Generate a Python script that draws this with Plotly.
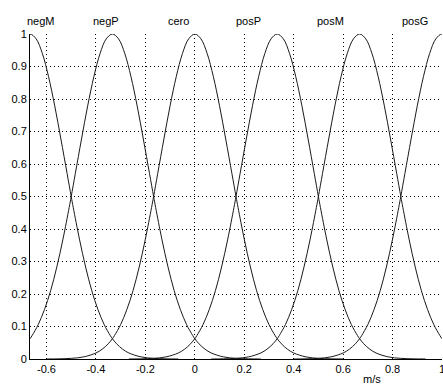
"""Gaussian membership functions for a fuzzy velocity variable (m/s)."""

import plotly.graph_objects as go

# ---------------------------------------------------------------------------
# Data
# ---------------------------------------------------------------------------

set_names = ["negM", "negP", "cero", "posP", "posM", "posG"]
set_centers = [-0.6667, -0.3333, 0.0, 0.3333, 0.6667, 1.0]

# One-sided shape of every membership curve: distance from the peak -> degree
profile_offsets = [0.0, 0.025, 0.05, 0.075, 0.1, 0.125, 0.15, 0.1667, 0.175,
                   0.2, 0.225, 0.25, 0.275, 0.3, 0.325, 0.3333, 0.35, 0.375,
                   0.4, 0.45, 0.5, 0.55, 0.6]
profile_degree = [1.0, 0.985, 0.94, 0.869, 0.779, 0.677, 0.571, 0.5, 0.466,
                  0.369, 0.283, 0.21, 0.152, 0.106, 0.072, 0.0625, 0.047, 0.03,
                  0.0185, 0.0064, 0.002, 0.0005, 0.0]

x_ticks = [-0.6, -0.4, -0.2, 0, 0.2, 0.4, 0.6, 0.8, 1]
x_tick_labels = ["-0.6", "-0.4", "-0.2", "0", "0.2", "0.4", "0.6", "0.8", "1"]
y_ticks = [0, 0.1, 0.2, 0.3, 0.4, 0.5, 0.6, 0.7, 0.8, 0.9, 1]
y_tick_labels = ["0", "0.1", "0.2", "0.3", "0.4", "0.5", "0.6", "0.7", "0.8",
                 "0.9", "1"]

# where the set names sit above the axes (x in data units)
name_positions = [-0.624, -0.358, -0.064, 0.216, 0.547, 0.891]

FONT = "Liberation Sans, Arial, sans-serif"

fig = go.Figure()

# -- Membership curves -------------------------------------------------------
left_off = [-d for d in reversed(profile_offsets[1:])]
left_deg = list(reversed(profile_degree[1:]))
offsets = left_off + profile_offsets
degrees = left_deg + profile_degree

for name, c in zip(set_names, set_centers):
    fig.add_trace(go.Scatter(
        x=[c + d for d in offsets], y=degrees,
        mode="lines", line=dict(color="#1a1a1a", width=1, shape="spline"),
        name=name, showlegend=False, hoverinfo="x+y+name",
    ))

# -- Set names above the plot ------------------------------------------------
for name, xp in zip(set_names, name_positions):
    fig.add_annotation(
        x=xp, y=1.039, xref="x", yref="paper", text=name,
        showarrow=False, xanchor="center", yanchor="middle",
        font=dict(family=FONT, size=11, color="black"),
    )

fig.add_annotation(
    x=0.717, y=-0.036, xref="x", yref="paper", text="m/s",
    showarrow=False, xanchor="center", yanchor="top",
    font=dict(family=FONT, size=11, color="black"),
)

# -- Layout ------------------------------------------------------------------
grid = dict(showgrid=True, gridcolor="black", gridwidth=1, griddash="1px,3px",
            zeroline=False, showline=True, linecolor="black", linewidth=1,
            ticks="", automargin=False, ticklabeloverflow="allow",
            tickfont=dict(family=FONT, size=11, color="black"))

fig.update_layout(
    width=443, height=387,
    margin=dict(l=30, r=1, t=34, b=28),
    plot_bgcolor="white", paper_bgcolor="white",
    xaxis=dict(range=[-0.6667, 1.0], tickvals=x_ticks, ticktext=x_tick_labels,
               **grid),
    yaxis=dict(range=[0, 1], tickvals=y_ticks, ticktext=y_tick_labels,
               **grid),
    font=dict(family=FONT, size=11, color="black"),
)

# the page's default 8px body margin would push the figure off-window
fig.write_html("out.html", config={"displayModeBar": False},
               post_script="document.body.style.margin='0';"
                           "document.body.style.overflow='hidden';")
